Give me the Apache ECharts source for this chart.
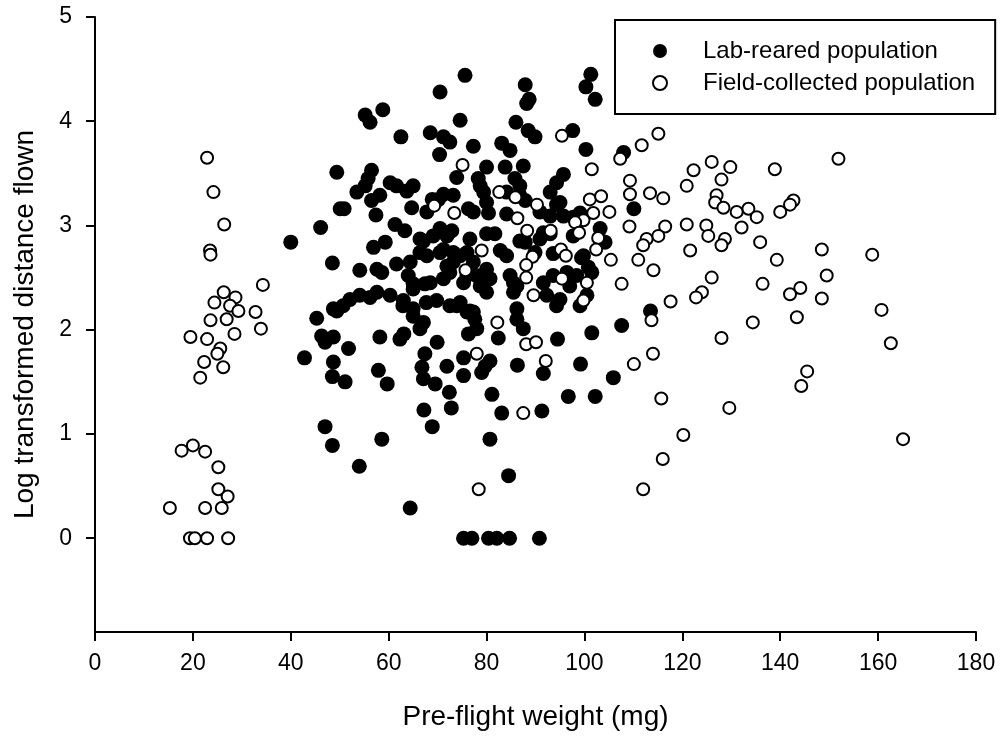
<!DOCTYPE html>
<html>
<head>
<meta charset="utf-8">
<script src="https://cdn.jsdelivr.net/npm/echarts@6/dist/echarts.min.js"></script>
<style>
html,body{margin:0;padding:0;background:#fff;}
#chart{width:1003px;height:738px;}
</style>
</head>
<body>
<div id="chart"></div>
<script>
// Series names
const seriesNames = ['Lab-reared population', 'Field-collected population'];

// Axis tick values
const xTicks = [0, 20, 40, 60, 80, 100, 120, 140, 160, 180];
const yTicks = [0, 1, 2, 3, 4, 5];

// Lab-reared population: [pre-flight weight (mg), log distance]
const labPoints = [
[49.4,3.51],[50.1,3.16],[40.0,2.84],[46.1,2.98],[48.5,2.64],[45.3,2.11],[49.4,2.18],[46.3,1.94],[48.7,1.93],[47.0,1.88],[42.8,1.73],[48.7,1.69],[48.5,1.55],[47.0,1.07],[48.5,0.89],[51.1,1.50],[51.8,1.82],
[75.6,4.44],[70.5,4.28],[87.9,4.35],[88.7,4.21],[101.3,4.45],[100.3,4.33],[102.2,4.21],[55.2,4.06],[56.2,3.99],[58.8,4.11],[74.6,4.01],[86.0,3.99],[88.5,3.91],[89.9,3.85],[97.6,3.91],[62.5,3.85],[68.5,3.89],[71.2,3.85],[72.5,3.80],[70.4,3.68],[77.3,3.76],[83.1,3.79],[84.8,3.72],[100.3,3.73],
[56.5,3.53],[55.8,3.45],[55.2,3.38],[53.5,3.32],[60.3,3.41],[61.6,3.38],[65.0,3.38],[63.7,3.33],[58.2,3.29],[56.5,3.24],[50.9,3.16],[57.4,3.10],
[80.0,3.56],[83.8,3.56],[87.5,3.57],[73.9,3.46],[78.3,3.45],[78.7,3.38],[85.8,3.45],[86.8,3.38],[95.7,3.49],[94.3,3.41],[93.0,3.32],[71.2,3.30],[73.2,3.29],[70.2,3.25],[79.4,3.32],[80.0,3.22],[80.4,3.12],[84.1,3.32],[86.8,3.29],[87.9,3.24],[95.0,3.22],[64.7,3.17],[67.8,3.13],[76.3,3.16],[77.3,3.13],[84.1,3.11],[90.9,3.13],[93.0,3.09],[95.7,3.09],[97.7,3.08],
[61.3,3.01],[63.3,2.95],[70.5,2.97],[72.9,2.95],[80.0,2.92],[81.7,2.92],[86.8,2.85],[93.0,2.92],[97.7,2.90],[103.5,2.85],[56.9,2.79],[59.3,2.84],[67.1,2.85],[69.1,2.90],[71.9,2.90],[76.6,2.87],[66.4,2.74],[67.8,2.71],[71.2,2.77],[73.2,2.74],[76.0,2.74],[77.3,2.65],[82.8,2.76],[84.1,2.71],[89.9,2.74],[93.6,2.73],[99.4,2.69],[61.6,2.63],[64.4,2.65],[64.0,2.52],[54.1,2.57],[57.6,2.58],[58.6,2.55],[71.9,2.61],[73.2,2.65],[71.2,2.49],[80.0,2.58],[80.7,2.49],[84.8,2.52],[85.5,2.45],[91.6,2.45],[98.4,2.52],[101.5,2.55],
[48.7,2.20],[50.7,2.23],[52.1,2.29],[54.1,2.33],[56.2,2.31],[57.6,2.36],[60.3,2.33],[63.0,2.28],[65.0,2.39],[67.4,2.44],[69.8,2.28],[72.5,2.23],[74.6,2.26],[76.0,2.17],[78.7,2.42],[80.0,2.36],[86.2,2.20],[92.3,2.33],[94.3,2.23],[99.1,2.23],[100.5,2.33],
[58.2,1.93],[62.3,1.91],[63.1,1.96],[57.9,1.61],[59.7,1.48],[58.6,0.95],[54.0,0.69],[64.4,0.29],[65.0,2.13],[67.1,2.07],[66.4,2.01],[65.0,2.20],[69.9,1.88],[67.4,1.77],[66.8,1.64],[67.1,1.53],[69.5,1.48],[71.9,1.65],[72.4,1.40],[72.8,1.25],[67.2,1.23],[68.9,1.07],[77.3,2.17],[78.0,2.01],[76.3,1.96],[75.3,1.73],[75.3,1.56],[79.0,1.59],[80.7,1.70],[81.1,1.38],[83.1,1.20],[80.7,0.95],[84.5,0.60],[82.4,1.92],[86.2,2.10],[87.5,2.01],[86.3,1.66],[91.6,1.58],[91.3,1.22],[94.5,1.91],[99.2,1.67],[96.7,1.36],[102.2,1.36],[101.5,1.97],[105.9,1.54],[107.6,2.04],[113.5,2.18],
[75.3,0],[77.0,0],[80.4,0],[82.1,0],[84.7,0],[90.8,0],
[70.5,2.74],[74.6,2.71],[72.5,2.55],[75.3,2.45],[77.9,2.52],[68.5,2.45],[73.9,2.23],[76.6,2.18],[77.6,2.10],[86.2,2.42],[85.5,2.36],[95.0,2.29],[96.4,2.55],[97.0,2.42],[79.7,1.65],[88.2,4.17],[94.3,3.20],[99.1,3.12],[87.9,2.84],[91.6,2.93],[90.9,2.87],[104.2,2.84],[100.8,2.60],[76.0,2.52],[93.6,2.52],[68.9,3.25],[66.4,2.87],[65.0,2.44],[62.9,2.23],[67.7,2.26],[108.0,3.70],[110.1,3.16],[103.2,2.97],[99.8,2.71]
];

// Field-collected population: [pre-flight weight (mg), log distance]
const fieldPoints = [
[22.9,3.65],[24.2,3.32],[26.4,3.01],[23.5,2.76],[23.6,2.72],[34.3,2.43],[26.3,2.36],[24.4,2.26],[28.7,2.31],[27.6,2.23],[29.3,2.18],[32.8,2.17],[23.6,2.09],[26.9,2.10],[33.9,2.01],[19.5,1.93],[22.9,1.91],[28.5,1.96],[25.6,1.82],[25.0,1.77],[22.3,1.69],[26.2,1.64],[21.5,1.54],[20.0,0.89],[17.7,0.84],[22.5,0.83],[25.2,0.68],[25.2,0.47],[27.1,0.40],[15.3,0.29],[22.5,0.29],[25.9,0.29],[19.4,0],[20.4,0],[22.9,0],[27.2,0],
[95.4,3.86],[75.1,3.58],[101.5,3.54],[107.3,3.64],[82.6,3.32],[85.9,3.27],[90.3,3.20],[69.3,3.19],[73.4,3.12],[86.3,3.07],[101.1,3.25],[103.4,3.28],[105.1,3.13],[101.8,3.12],[99.8,3.05],[98.1,3.03],[98.9,2.93],[102.8,2.88],[102.4,2.77],[93.1,2.95],[88.3,2.95],[105.4,2.67],[79.0,2.76],[95.2,2.77],[96.2,2.71],[89.4,2.70],[88.1,2.62],[75.7,2.57],[88.1,2.50],[95.4,2.49],[100.5,2.45],[89.6,2.33],[99.8,2.28],[107.6,2.44],[82.2,2.07],[88.1,1.86],[90.1,1.88],[78.0,1.77],[92.1,1.70],[87.5,1.20],[78.4,0.47],
[115.1,3.88],[111.7,3.77],[151.9,3.64],[126.0,3.61],[129.8,3.56],[122.3,3.53],[138.9,3.54],[128.0,3.44],[120.9,3.38],[109.3,3.43],[109.3,3.30],[113.4,3.31],[116.1,3.26],[127.0,3.29],[126.7,3.22],[128.4,3.17],[142.7,3.24],[142.0,3.20],[133.5,3.16],[131.1,3.13],[135.2,3.08],[140.0,3.13],[109.2,2.99],[116.5,2.99],[120.9,3.01],[124.9,3.00],[132.1,2.98],[115.1,2.90],[112.7,2.87],[112.0,2.81],[125.3,2.90],[128.7,2.87],[128.0,2.81],[121.6,2.76],[135.9,2.84],[111.0,2.67],[114.1,2.57],[139.3,2.67],[148.5,2.77],[158.8,2.72],[149.5,2.52],[144.1,2.40],[142.0,2.34],[148.5,2.30],[136.4,2.44],[126.0,2.50],[124.0,2.36],[122.8,2.31],[117.6,2.27],[160.7,2.19],[143.4,2.12],[134.4,2.07],[113.7,2.09],[128.0,1.92],[114.0,1.77],[110.1,1.67],[162.6,1.87],[145.5,1.60],[144.3,1.46],[115.7,1.34],[129.6,1.25],[120.2,0.99],[116.0,0.76],[165.1,0.95],[112.0,0.47]
];

const FONT = '"Liberation Sans", Arial, Helvetica, sans-serif';
const chart = echarts.init(document.getElementById('chart'), null, {renderer: 'canvas'});
chart.setOption({
  animation: false,
  backgroundColor: '#fff',
  grid: {left: 95, right: 27, top: 17, bottom: 106, containLabel: false},
  legend: {
    orient: 'vertical',
    left: 615, top: 20,
    padding: [19, 20, 19, 37],
    itemWidth: 14, itemHeight: 14, itemGap: 8,
    borderColor: '#000', borderWidth: 2,
    textStyle: {fontFamily: FONT, fontSize: 24, color: '#000', padding: [0, 0, 0, 31]},
    data: seriesNames
  },
  xAxis: {
    type: 'value', min: 0, max: 180, interval: 20,
    name: 'Pre-flight weight (mg)', nameLocation: 'middle', nameGap: 71,
    nameTextStyle: {fontFamily: FONT, fontSize: 28, color: '#000'},
    axisLine: {show: true, onZero: false, lineStyle: {color: '#000', width: 2}},
    axisTick: {show: true, inside: false, length: 9, lineStyle: {color: '#000', width: 2}},
    axisLabel: {margin: 20, fontFamily: FONT, fontSize: 23, color: '#000', formatter: v => xTicks.includes(v) ? String(v) : ''},
    splitLine: {show: false}
  },
  yAxis: {
    type: 'value', min: -0.9, max: 5,
    name: 'Log transformed distance flown', nameLocation: 'middle', nameRotate: 90, nameGap: 56,
    nameTextStyle: {fontFamily: FONT, fontSize: 28, color: '#000'},
    axisLine: {show: true, onZero: false, lineStyle: {color: '#000', width: 2}},
    axisTick: {show: true, inside: false, length: 9, customValues: yTicks, lineStyle: {color: '#000', width: 2}},
    axisLabel: {margin: 23, customValues: yTicks, fontFamily: FONT, fontSize: 23, color: '#000'},
    splitLine: {show: false}
  },
  series: [
    {
      name: seriesNames[0], type: 'scatter', data: labPoints,
      symbol: 'circle', symbolSize: 15,
      itemStyle: {color: '#000', borderWidth: 0, opacity: 1}
    },
    {
      name: seriesNames[1], type: 'scatter', data: fieldPoints,
      symbol: 'circle', symbolSize: 12,
      itemStyle: {color: '#fff', borderColor: '#000', borderWidth: 2, opacity: 1}
    }
  ]
});
</script>
</body>
</html>
